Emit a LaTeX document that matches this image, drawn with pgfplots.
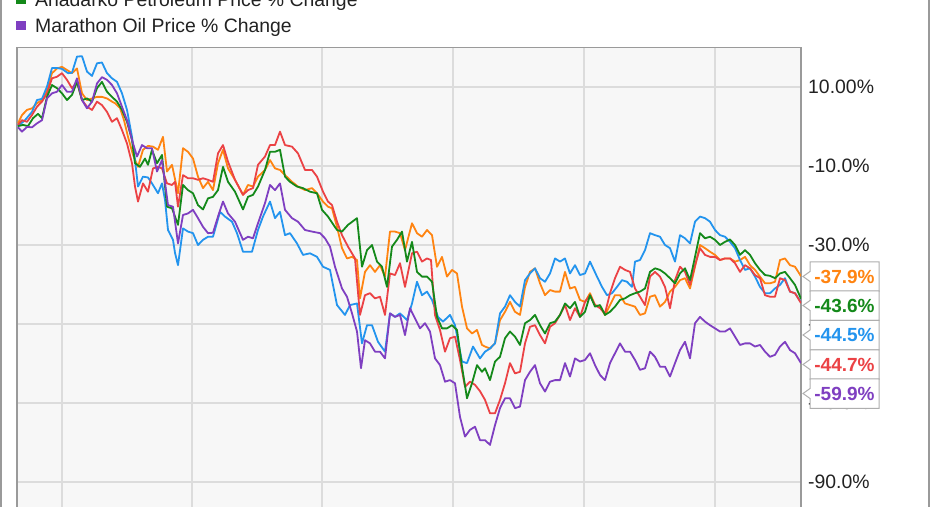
\documentclass[border=0pt]{standalone}
\usepackage{fontspec}
\setmainfont{Liberation Sans}
\usepackage{pgfplots}
\pgfplotsset{compat=1.18}
\definecolor{cOrange}{HTML}{FF8411}
\definecolor{cGreen}{HTML}{14891A}
\definecolor{cBlue}{HTML}{2394EE}
\definecolor{cRed}{HTML}{EB4245}
\definecolor{cPurple}{HTML}{7F3FC1}
\definecolor{cGrid}{HTML}{DCDCDC}
\definecolor{cBg}{HTML}{F7F7F7}
\definecolor{cFrame}{HTML}{9A9A9A}
\definecolor{cText}{HTML}{222222}
\begin{document}
\begin{tikzpicture}[x=1pt,y=1pt]
\useasboundingbox (0,0) rectangle (931,506);
\clip (0,0) rectangle (931,506);
% outer frame
\draw[cFrame, line width=1.5pt] (1,-5) -- (1,520);
\draw[cFrame, line width=1.5pt] (929,-5) -- (929,520);
\begin{axis}[
  at={(17pt,-10pt)}, anchor=south west,
  scale only axis, width=784pt, height=468.5pt,
  xmin=17, xmax=801, ymin=-98.6, ymax=20,
  axis background/.style={fill=cBg},
  axis line style={draw=cFrame, line width=1.2pt},
  xtick={62,192,322,453,584,715}, xticklabels={},
  ytick={-90,-70,-50,-30,-10,10},
  yticklabels={-90.0\%,-70.0\%,-50.0\%,-30.0\%,-10.0\%,10.00\%},
  yticklabel pos=right,
  major tick length=0pt,
  yticklabel style={anchor=west, inner sep=0pt, xshift=7pt, text=cText,
    font=\fontsize{19.4}{23}\selectfont},
  xmajorgrids, ymajorgrids,
  grid style={cGrid, line width=1.3pt},
  every axis plot/.append style={line width=1.8pt, line join=round, no markers},
]
\addplot[cOrange] coordinates {
(18,0.8)(22,2.9)(27,4.2)(32,4.6)(37,5.9)(42,6.7)(47,9.2)(52,13.5)(57,14.7)(62,15.1)
(67,14.3)(72,13.5)(77,14.7)(82,8.4)(87,6.7)(92,7.1)(97,7.5)(102,7.5)(107,7.1)(112,6.3)
(115,5.9)(120,4.7)(124,1.6)(128,-2.6)(133,-7.2)(138,-10.2)(143,-5.9)(148,-4.9)(153,-5.1)(158,-5.9)
(163,-2.6)(167,-11.4)(172,-9.7)(178,-16.9)(183,-5.5)(188,-6.4)(193,-8.1)(198,-12.7)(203,-15.6)(208,-14.0)
(213,-16.1)(218,-9.3)(223,-5.9)(228,-10.6)(235,-13.5)(243,-17.3)(248,-14.8)(253,-15.2)(258,-12.7)(265,-11.0)
(270,-8.5)(275,-10.6)(280,-11.0)(285,-12.3)(292,-14.0)(298,-15.2)(305,-16.1)(312,-15.6)(317,-16.9)(323,-19.0)
(328,-20.3)(332,-20.7)(337,-25.4)(342,-30.8)(347,-33.4)(352,-33.0)(357,-33.8)(360,-43.5)(365,-36.8)(370,-35.1)
(375,-36.8)(380,-35.1)(385,-38.0)(390,-26.6)(395,-26.6)(400,-27.0)(405,-31.3)(412,-24.5)(417,-27.0)(422,-27.9)
(427,-26.2)(432,-27.5)(437,-35.5)(442,-33.0)(447,-38.0)(452,-36.3)(457,-37.2)(462,-45.6)(467,-51.1)(472,-52.4)
(477,-51.5)(482,-55.3)(485,-55.7)(490,-56.2)(495,-54.9)(500,-49.0)(505,-46.9)(510,-44.4)(515,-46.9)(520,-47.7)
(525,-40.6)(530,-36.8)(535,-35.9)(540,-39.7)(545,-42.7)(550,-41.4)(555,-41.8)(560,-41.8)(565,-36.8)(570,-41.0)
(575,-40.6)(580,-43.9)(585,-44.4)(590,-42.2)(595,-45.2)(600,-45.6)(605,-47.7)(610,-45.2)(615,-42.7)(620,-42.7)
(625,-44.8)(630,-45.2)(635,-45.6)(640,-47.7)(645,-47.3)(650,-43.1)(655,-42.7)(660,-45.6)(665,-44.4)(670,-41.8)
(675,-40.6)(680,-38.9)(685,-38.4)(690,-41.0)(695,-35.5)(700,-30.0)(705,-30.8)(710,-31.7)(715,-32.5)(720,-33.8)
(725,-33.4)(730,-33.4)(735,-34.2)(740,-33.8)(745,-33.0)(750,-35.1)(755,-36.3)(760,-38.0)(765,-39.7)(770,-39.7)
(775,-39.3)(780,-33.8)(785,-33.4)(790,-35.1)(795,-35.5)(801,-37.9)
};
\addplot[cBlue] coordinates {
(18,0.1)(25,1.6)(32,3.7)(37,6.7)(42,7.0)(47,10.1)(52,14.8)(57,14.8)(62,14.6)(68,13.5)
(72,13.6)(77,17.7)(82,17.8)(87,13.9)(92,12.8)(97,16.0)(102,16.2)(107,13.5)(112,12.2)(117,11.3)
(122,8.4)(127,4.2)(132,-2.6)(135,-8.5)(138,-15.2)(143,-12.7)(148,-12.9)(152,-14.4)(158,-16.9)(162,-14.4)
(165,-18.6)(168,-26.2)(173,-28.7)(175,-32.0)(178,-35.1)(183,-25.8)(188,-26.6)(193,-27.0)(198,-30.0)(203,-28.7)
(208,-27.9)(213,-27.9)(220,-21.6)(225,-22.8)(232,-24.1)(237,-27.0)(243,-31.7)(252,-31.7)(258,-26.2)(263,-22.8)
(270,-19.0)(275,-23.2)(280,-21.6)(285,-27.5)(290,-27.0)(297,-29.6)(303,-32.5)(310,-32.1)(317,-33.0)(323,-35.5)
(330,-36.3)(337,-45.2)(345,-47.7)(350,-45.2)(357,-44.8)(362,-54.9)(367,-50.3)(372,-50.3)(378,-54.5)(385,-57.0)
(390,-47.3)(395,-48.2)(400,-47.3)(407,-49.0)(412,-44.8)(417,-39.3)(422,-42.7)(427,-41.8)(432,-43.9)(438,-48.2)
(443,-49.4)(450,-47.7)(455,-50.3)(462,-59.5)(467,-59.9)(473,-55.7)(480,-58.7)(485,-57.0)(490,-56.2)(495,-54.9)
(500,-47.3)(505,-45.6)(510,-42.7)(515,-44.4)(520,-45.6)(525,-38.9)(530,-37.2)(535,-35.9)(540,-38.4)(545,-39.3)
(550,-37.2)(555,-33.4)(560,-34.2)(565,-33.4)(570,-37.2)(575,-35.1)(580,-37.6)(585,-37.2)(590,-34.2)(597,-38.0)
(602,-40.6)(607,-42.7)(612,-42.2)(617,-40.6)(622,-38.9)(627,-39.3)(632,-40.6)(635,-34.2)(640,-33.8)(645,-31.3)
(650,-27.0)(655,-27.5)(660,-27.9)(665,-30.0)(670,-30.8)(675,-34.2)(680,-27.5)(685,-28.3)(690,-29.6)(695,-24.1)
(700,-22.8)(705,-23.2)(710,-24.1)(715,-26.2)(720,-27.5)(725,-27.9)(730,-29.2)(735,-30.8)(740,-33.8)(745,-36.3)
(750,-35.9)(755,-38.0)(760,-40.6)(765,-42.2)(770,-42.2)(775,-41.0)(780,-40.1)(785,-38.4)(790,-41.8)(795,-42.2)
(801,-44.5)
};
\addplot[cRed] coordinates {
(18,0.4)(22,1.6)(27,1.2)(32,2.9)(37,5.0)(42,6.3)(47,8.4)(52,12.2)(57,12.6)(62,13.5)
(67,11.8)(72,9.7)(77,11.3)(82,6.7)(87,5.0)(92,4.2)(97,6.3)(102,5.4)(107,3.7)(112,1.2)
(117,2.1)(122,-0.9)(127,-4.3)(132,-9.3)(135,-15.2)(138,-19.0)(143,-14.4)(148,-16.5)(153,-10.6)(158,-10.2)
(162,-10.6)(167,-14.4)(172,-14.8)(175,-14.0)(178,-20.3)(183,-12.3)(188,-13.1)(193,-13.1)(198,-13.5)(203,-13.1)
(208,-13.5)(213,-14.0)(218,-6.8)(223,-4.7)(228,-8.9)(235,-13.5)(243,-17.3)(248,-16.1)(253,-15.6)(258,-9.7)
(265,-7.6)(270,-4.7)(275,-4.7)(280,-1.3)(285,-4.7)(292,-5.1)(298,-6.8)(305,-11.0)(312,-11.0)(317,-12.7)
(323,-16.5)(328,-19.0)(332,-19.9)(337,-24.1)(342,-27.5)(348,-30.4)(355,-33.4)(360,-47.7)(365,-42.7)(370,-42.2)
(375,-43.5)(380,-43.1)(385,-47.7)(390,-37.2)(395,-37.6)(400,-34.6)(405,-40.6)(412,-32.1)(417,-31.7)(422,-34.2)
(427,-33.4)(431,-33.8)(435,-47.7)(440,-51.5)(445,-57.0)(450,-53.6)(455,-53.2)(460,-59.1)(465,-65.9)(470,-64.6)
(475,-65.4)(480,-67.0)(485,-69.2)(490,-72.6)(495,-72.6)(500,-69.2)(505,-65.0)(510,-59.9)(515,-62.5)(520,-62.1)
(525,-54.9)(530,-50.7)(535,-50.3)(540,-52.8)(545,-54.9)(550,-50.7)(555,-49.8)(560,-47.7)(565,-45.2)(570,-49.0)
(575,-46.0)(580,-48.2)(585,-44.4)(590,-42.7)(595,-45.2)(600,-46.0)(605,-47.3)(610,-42.2)(615,-38.4)(620,-35.5)
(625,-36.3)(630,-36.8)(635,-41.0)(640,-43.1)(645,-45.2)(650,-38.0)(655,-36.8)(660,-38.0)(665,-40.6)(670,-46.0)
(675,-38.9)(680,-35.5)(685,-36.8)(690,-40.1)(695,-35.1)(700,-30.8)(705,-32.5)(710,-33.0)(715,-33.0)(720,-33.8)
(725,-33.4)(730,-33.4)(735,-34.6)(740,-36.8)(745,-35.1)(750,-35.9)(755,-37.6)(760,-38.4)(765,-42.7)(770,-43.1)
(775,-43.1)(780,-38.4)(785,-38.9)(790,-41.8)(795,-42.2)(801,-44.7)
};
\addplot[cGreen] coordinates {
(18,0.1)(23,0.4)(28,0.1)(33,2.1)(38,3.2)(42,2.1)(47,7.5)(52,10.5)(57,9.7)(62,8.4)
(67,6.7)(72,8.0)(77,11.3)(82,6.7)(87,7.1)(92,6.3)(97,9.7)(102,11.3)(107,8.8)(112,7.5)
(117,6.3)(122,4.2)(127,1.2)(132,-3.4)(135,-9.3)(140,-10.2)(145,-8.1)(148,-9.7)(152,-5.9)(157,-9.3)
(162,-7.2)(167,-20.3)(172,-20.7)(178,-24.9)(183,-14.8)(188,-16.1)(193,-16.9)(198,-19.9)(203,-21.0)(208,-18.2)
(213,-17.8)(218,-16.1)(223,-10.2)(228,-14.0)(235,-16.5)(243,-21.0)(248,-17.8)(253,-17.3)(258,-15.2)(265,-11.0)
(270,-6.4)(275,-6.4)(280,-5.9)(285,-12.7)(290,-14.0)(297,-15.2)(303,-15.6)(310,-16.5)(317,-16.9)(322,-21.1)
(328,-22.8)(337,-26.2)(342,-26.6)(348,-24.9)(357,-23.2)(362,-35.5)(367,-31.3)(372,-30.0)(377,-34.2)(382,-35.5)
(387,-40.6)(392,-30.4)(397,-28.7)(402,-26.6)(407,-34.2)(412,-29.2)(417,-36.8)(422,-38.0)(427,-38.0)(432,-39.3)
(437,-48.2)(442,-51.1)(447,-51.1)(452,-50.3)(457,-51.5)(462,-60.8)(467,-68.8)(472,-65.0)(477,-60.4)(482,-62.1)
(485,-61.2)(490,-64.2)(495,-59.5)(500,-58.3)(505,-53.6)(510,-51.9)(515,-53.2)(520,-55.3)(525,-49.8)(530,-49.0)
(535,-47.7)(540,-50.3)(545,-52.4)(550,-49.8)(555,-49.4)(560,-47.7)(565,-44.8)(570,-46.0)(575,-44.4)(580,-48.2)
(585,-46.9)(590,-42.7)(595,-45.6)(600,-45.2)(605,-47.7)(610,-46.9)(615,-45.6)(620,-43.9)(625,-43.5)(630,-42.7)
(635,-42.2)(640,-41.8)(645,-41.0)(650,-36.8)(655,-35.9)(660,-36.3)(665,-37.2)(670,-38.4)(675,-39.7)(680,-37.2)
(685,-35.9)(690,-38.9)(695,-33.0)(700,-27.0)(705,-28.3)(710,-27.9)(715,-28.7)(720,-30.0)(725,-29.2)(730,-28.6)
(735,-30.0)(740,-32.5)(745,-31.3)(750,-32.5)(755,-34.6)(760,-36.3)(765,-37.6)(770,-37.8)(775,-38.4)(780,-37.2)
(785,-36.8)(790,-38.4)(795,-40.1)(801,-43.6)
};
\addplot[cPurple] coordinates {
(18,-0.2)(22,-1.3)(27,-0.1)(32,-0.2)(37,0.8)(42,1.6)(47,7.1)(52,8.4)(57,8.8)(62,10.5)
(67,8.8)(72,8.8)(77,12.2)(82,6.7)(87,4.6)(92,6.3)(97,10.9)(102,12.5)(107,11.8)(112,10.5)
(117,8.4)(122,5.0)(127,1.6)(132,-3.4)(137,-7.6)(142,-4.7)(147,-5.5)(152,-5.5)(157,-11.4)(162,-8.5)
(168,-19.9)(173,-20.3)(178,-29.6)(183,-22.4)(188,-22.0)(193,-21.1)(198,-23.2)(203,-25.4)(208,-27.0)(213,-26.9)
(218,-22.8)(223,-19.0)(228,-22.0)(235,-24.1)(243,-28.7)(248,-27.9)(253,-28.3)(258,-24.5)(265,-19.4)(270,-14.8)
(275,-16.1)(280,-14.4)(285,-21.1)(292,-23.2)(298,-24.1)(305,-26.2)(312,-26.6)(320,-27.0)(325,-28.3)(330,-30.4)
(335,-35.5)(342,-41.0)(347,-43.1)(352,-47.3)(357,-51.9)(361,-61.2)(365,-54.1)(370,-54.9)(375,-57.0)(380,-57.0)
(385,-58.7)(390,-47.3)(395,-48.2)(400,-47.7)(405,-52.8)(410,-46.0)(415,-48.6)(420,-51.1)(425,-49.8)(430,-51.9)
(435,-58.7)(440,-60.4)(445,-64.6)(450,-64.2)(455,-65.0)(460,-73.5)(465,-78.5)(470,-76.8)(475,-76.0)(480,-79.4)
(485,-79.4)(490,-80.6)(495,-75.6)(500,-71.3)(505,-68.8)(510,-68.8)(515,-71.3)(520,-70.9)(525,-64.2)(530,-62.1)
(535,-60.4)(540,-65.0)(545,-67.1)(550,-64.6)(555,-64.2)(560,-64.2)(565,-59.9)(570,-63.3)(575,-58.7)(580,-59.5)
(585,-59.1)(590,-57.4)(595,-60.4)(600,-62.9)(605,-64.2)(610,-59.9)(615,-57.4)(620,-54.9)(625,-57.0)(630,-57.0)
(635,-59.1)(640,-61.6)(645,-61.2)(650,-57.0)(655,-58.3)(660,-60.8)(665,-60.8)(670,-63.3)(675,-59.9)(680,-56.6)
(685,-54.5)(690,-58.7)(695,-49.8)(700,-48.2)(705,-49.4)(710,-50.3)(715,-51.1)(720,-51.9)(725,-51.9)(730,-51.1)
(735,-53.2)(740,-55.3)(745,-54.9)(750,-54.9)(755,-55.7)(760,-55.3)(765,-57.0)(770,-58.3)(775,-57.8)(780,-55.7)
(785,-54.5)(790,-56.6)(795,-57.4)(801,-59.9)
};
\end{axis}
% end-value labels
\tikzset{endbox/.style={fill=white, draw=cFrame!80, line width=1pt},
  endlab/.style={font=\bfseries\fontsize{19}{22}\selectfont, anchor=center, inner sep=0pt}}
\foreach \t/\c/\col/\txt in {
  244/229.5/cOrange/{-37.9\%},
  215/200.5/cGreen/{-43.6\%},
  185.5/171/cBlue/{-44.5\%},
  156/141.5/cRed/{-44.7\%},
  127/112.5/cPurple/{-59.9\%}}{
  \pgfmathsetmacro{\b}{\t-29.5}
  \draw[endbox] (810,\t) -- (879,\t) -- (879,\b) -- (810,\b) -- (810,\c-5) -- (803,\c) -- (810,\c+5) -- cycle;
  \node[endlab, text=\col] at (844.5,\c) {\txt};
}
% legend (partly cut at the top)
\fill[cGreen] (16,502) rectangle (26,511);
\node[anchor=base west, inner sep=0pt, text=cText, font=\fontsize{19.4}{23}\selectfont] at (35,499) {Anadarko Petroleum Price \% Change};
\fill[cPurple] (16,476) rectangle (26,485);
\node[anchor=base west, inner sep=0pt, text=cText, font=\fontsize{19.4}{23}\selectfont] at (35,473) {Marathon Oil Price \% Change};
\end{tikzpicture}
\end{document}
